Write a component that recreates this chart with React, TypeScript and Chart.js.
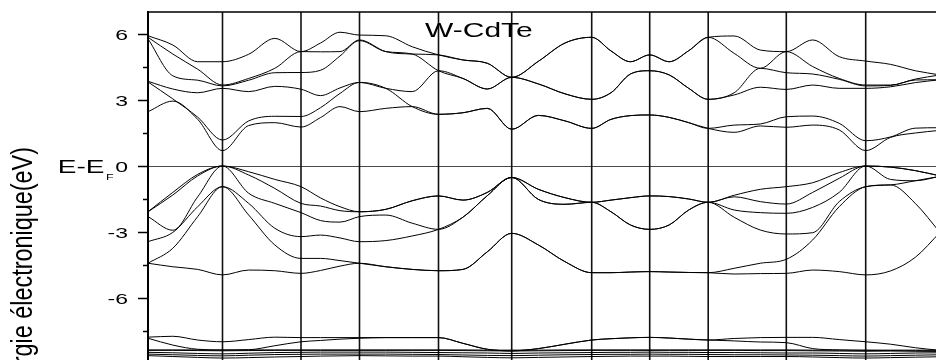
import React, { useEffect, useRef } from "react";
import { Chart, registerables } from "chart.js";

Chart.register(...registerables);

// k-path grid (arbitrary path length units) and high-symmetry points
const K = [0, 0.248, 0.497, 0.745, 1.007, 1.268, 1.53, 1.725, 1.92, 2.115, 2.378, 2.642, 2.905, 3.149, 3.393, 3.637, 3.904, 4.17, 4.437, 4.63, 4.824, 5.017, 5.212, 5.407, 5.602, 5.862, 6.123, 6.383, 6.647, 6.912, 7.177, 7.425, 7.673, 7.92];
const K_SYM = [0, 0.745, 1.53, 2.115, 2.905, 3.637, 4.437, 5.017, 5.602, 6.383, 7.177, 7.92];

const Y_MAJOR = [-9, -6, -3, 0, 3, 6];
const Y_MINOR = [-7.5, -4.5, -1.5, 1.5, 4.5];
const TITLE = "W-CdTe";
const Y_TITLE = "Énergie électronique(eV)";

// conduction bands (eV), sorted from lowest
const CB1 = [2.47, 2.95, 2.12, 0.7, 1.84, 1.97, 1.77, 2.2, 2.7, 2.47, 2.62, 2.7, 2.35, 2.42, 2.62, 1.67, 2.3, 2.05, 1.71, 2.12, 2.29, 2.32, 2.21, 1.97, 1.71, 1.53, 1.82, 1.76, 1.86, 1.64, 0.7, 1.3, 1.5, 1.62];
const CB2 = [3.82, 3.05, 2.22, 1.18, 2.05, 2.26, 2.25, 2.65, 3.3, 3.8, 3.53, 2.7, 2.35, 2.42, 2.62, 1.67, 2.3, 2.05, 1.71, 2.12, 2.29, 2.32, 2.21, 1.97, 1.71, 1.86, 1.91, 2.24, 2.27, 1.94, 1.15, 1.32, 1.72, 1.74];
const CB3 = [3.85, 3.5, 3.33, 3.53, 3.38, 3.62, 3.49, 3.2, 3.55, 3.8, 3.53, 3.38, 4.33, 3.98, 3.5, 4.03, 3.73, 3.28, 3.03, 3.33, 4.18, 4.33, 4.14, 3.53, 3.03, 3.23, 3.58, 3.48, 3.68, 3.53, 3.53, 3.6, 3.79, 3.92];
const CB4 = [5.78, 4.1, 3.9, 3.64, 3.9, 4.24, 4.25, 4.35, 5.0, 5.7, 5.2, 5.09, 4.33, 3.98, 3.5, 4.03, 3.73, 3.28, 3.03, 3.33, 4.18, 4.33, 4.14, 3.53, 3.03, 3.33, 4.44, 4.24, 4.18, 3.94, 3.64, 3.66, 3.91, 3.92];
const CB5 = [5.85, 5.09, 4.4, 3.68, 3.98, 4.44, 5.2, 5.19, 5.2, 5.73, 5.2, 5.09, 5.05, 4.82, 4.67, 4.03, 4.76, 5.59, 5.85, 5.23, 4.74, 5.05, 4.74, 5.24, 5.85, 5.12, 4.44, 5.2, 4.52, 3.98, 3.68, 3.68, 3.95, 4.14];
const CB6 = [5.92, 5.5, 4.74, 4.74, 5.08, 5.8, 5.2, 5.59, 6.08, 5.95, 5.92, 5.42, 5.05, 4.82, 4.67, 4.03, 4.76, 5.59, 5.85, 5.23, 4.74, 5.05, 4.74, 5.24, 5.85, 5.91, 5.27, 5.2, 5.73, 4.97, 4.77, 4.62, 4.33, 4.14];

// valence bands (eV), sorted from lowest
const VB1 = [-4.42, -4.58, -4.7, -4.95, -4.73, -4.76, -4.88, -4.75, -4.55, -4.42, -4.58, -4.7, -4.76, -4.7, -3.9, -3.06, -3.59, -4.35, -4.85, -4.85, -4.82, -4.8, -4.82, -4.84, -4.85, -4.91, -4.89, -4.88, -4.73, -4.8, -4.95, -4.77, -4.15, -3.02];
const VB2 = [-4.42, -3.74, -2.3, -0.94, -2.23, -3.59, -4.2, -4.2, -4.3, -4.42, -4.58, -4.7, -4.76, -4.7, -3.9, -3.06, -3.59, -4.35, -4.85, -4.85, -4.82, -4.8, -4.82, -4.84, -4.85, -4.65, -4.42, -4.24, -3.36, -1.85, -0.94, -0.86, -1.7, -3.02];
const VB3 = [-3.44, -3.02, -1.85, -0.94, -1.7, -2.83, -3.21, -3.14, -3.27, -3.44, -3.39, -3.18, -2.88, -2.33, -1.35, -0.52, -1.52, -1.74, -1.65, -2.08, -2.68, -2.88, -2.68, -2.0, -1.65, -2.33, -2.91, -3.09, -3.03, -1.62, -0.94, -0.86, -0.67, -0.47];
const VB4 = [-2.3, -2.92, -1.4, 0, -1.24, -1.7, -2.12, -2.48, -2.55, -2.3, -2.23, -2.6, -2.88, -2.33, -1.35, -0.52, -1.52, -1.74, -1.65, -2.08, -2.68, -2.88, -2.68, -2.0, -1.65, -2.0, -2.12, -2.15, -1.88, -1.2, 0, -0.61, -0.67, -0.47];
const VB5 = [-2.08, -1.32, -0.45, 0, -0.41, -1.02, -1.7, -1.82, -2.03, -2.08, -1.97, -1.58, -1.36, -1.55, -1.2, -0.52, -1.06, -1.44, -1.65, -1.55, -1.44, -1.36, -1.39, -1.5, -1.65, -1.4, -1.62, -1.73, -1.2, -0.56, 0, -0.05, -0.21, -0.45];
const VB6 = [-2.08, -1.2, -0.38, 0, -0.26, -0.61, -0.94, -1.45, -1.85, -2.08, -1.97, -1.58, -1.36, -1.55, -1.2, -0.52, -1.06, -1.44, -1.65, -1.55, -1.44, -1.36, -1.39, -1.5, -1.65, -1.33, -1.06, -0.94, -0.76, -0.3, 0, -0.05, -0.21, -0.45];

// semicore (Cd 4d) bands (eV)
const SC1 = [-8.62, -8.66, -8.7, -8.73, -8.71, -8.68, -8.66, -8.64, -8.63, -8.62, -8.63, -8.64, -8.64, -8.67, -8.7, -8.72, -8.7, -8.68, -8.66, -8.65, -8.64, -8.64, -8.64, -8.65, -8.66, -8.66, -8.66, -8.66, -8.68, -8.71, -8.73, -8.71, -8.69, -8.67];
const SC2 = [-8.55, -8.58, -8.61, -8.63, -8.6, -8.57, -8.56, -8.55, -8.55, -8.55, -8.55, -8.56, -8.57, -8.59, -8.61, -8.62, -8.6, -8.58, -8.57, -8.56, -8.56, -8.55, -8.56, -8.56, -8.57, -8.58, -8.58, -8.59, -8.6, -8.62, -8.64, -8.62, -8.6, -8.58];
const SC3 = [-8.47, -8.49, -8.52, -8.54, -8.51, -8.48, -8.47, -8.46, -8.46, -8.46, -8.46, -8.47, -8.48, -8.49, -8.5, -8.52, -8.5, -8.49, -8.48, -8.47, -8.47, -8.46, -8.47, -8.47, -8.48, -8.48, -8.49, -8.5, -8.5, -8.52, -8.54, -8.52, -8.5, -8.49];
const SC4 = [-8.38, -8.38, -8.39, -8.4, -8.39, -8.38, -8.38, -8.38, -8.38, -8.38, -8.38, -8.38, -8.38, -8.39, -8.4, -8.41, -8.4, -8.39, -8.38, -8.38, -8.38, -8.38, -8.38, -8.38, -8.38, -8.38, -8.39, -8.39, -8.4, -8.41, -8.42, -8.41, -8.4, -8.4];
const SC5 = [-8.36, -8.36, -8.36, -8.37, -8.36, -8.36, -8.36, -8.36, -8.36, -8.36, -8.36, -8.36, -8.36, -8.36, -8.37, -8.37, -8.37, -8.36, -8.36, -8.36, -8.36, -8.36, -8.36, -8.36, -8.36, -8.36, -8.36, -8.36, -8.37, -8.37, -8.37, -8.37, -8.37, -8.37];
const SC6 = [-7.83, -8.14, -8.33, -8.36, -8.35, -8.17, -7.99, -7.93, -7.87, -7.83, -7.8, -7.8, -7.8, -8.06, -8.33, -8.4, -8.3, -8.1, -7.91, -7.85, -7.81, -7.79, -7.82, -7.87, -7.91, -7.95, -8.0, -8.03, -8.3, -8.36, -8.38, -8.39, -8.42, -8.43];
const SC7 = [-7.78, -7.74, -7.91, -7.99, -7.89, -7.78, -7.8, -7.8, -7.8, -7.8, -7.8, -7.8, -7.8, -8.06, -8.33, -8.4, -8.3, -8.1, -7.91, -7.85, -7.81, -7.79, -7.82, -7.87, -7.91, -7.84, -7.8, -7.79, -7.79, -7.89, -7.99, -8.1, -8.26, -8.38];

const BANDS = [SC1, SC2, SC3, SC4, SC5, SC6, SC7, VB1, VB2, VB3, VB4, VB5, VB6, CB1, CB2, CB3, CB4, CB5, CB6];

const FONT = '"Liberation Sans", Arial, Helvetica, sans-serif';

export default function App() {
  const ref = useRef<HTMLCanvasElement | null>(null);

  useEffect(() => {
    const canvas = ref.current;
    if (!canvas) return;

    const squashed = (
      ctx: CanvasRenderingContext2D,
      text: string,
      x: number,
      y: number,
      size: number,
      sy: number,
      align: CanvasTextAlign
    ) => {
      ctx.save();
      ctx.translate(x, y);
      ctx.scale(1, sy);
      ctx.font = `${size}px ${FONT}`;
      ctx.textAlign = align;
      ctx.textBaseline = "alphabetic";
      ctx.fillText(text, 0, 0);
      ctx.restore();
    };

    const framePlugin = {
      id: "bandFrame",
      beforeDatasetsDraw(chart: any) {
        const { ctx, chartArea: a, scales } = chart;
        const xs = scales.x;
        const ys = scales.y;
        ctx.save();
        // Fermi level
        const y0 = Math.round(ys.getPixelForValue(0)) + 0.5;
        ctx.strokeStyle = "#4a4a4a";
        ctx.lineWidth = 1;
        ctx.beginPath();
        ctx.moveTo(a.left, y0);
        ctx.lineTo(a.right, y0);
        ctx.stroke();
        // high-symmetry verticals
        ctx.strokeStyle = "#111";
        ctx.lineWidth = 1.6;
        K_SYM.slice(1, -1).forEach((k) => {
          const px = xs.getPixelForValue(k);
          ctx.beginPath();
          ctx.moveTo(px, a.top);
          ctx.lineTo(px, a.bottom);
          ctx.stroke();
        });
        ctx.restore();
      },
      afterDraw(chart: any) {
        const { ctx, chartArea: a, scales } = chart;
        const ys = scales.y;
        ctx.save();
        ctx.strokeStyle = "#000";
        // frame
        ctx.lineWidth = 1.5;
        ctx.strokeRect(a.left, a.top, a.right - a.left, a.bottom - a.top);
        ctx.lineWidth = 2;
        ctx.beginPath();
        ctx.moveTo(a.left, a.top - 1);
        ctx.lineTo(a.left, a.bottom);
        ctx.stroke();
        // ticks
        ctx.lineWidth = 1.5;
        Y_MAJOR.forEach((v) => {
          const py = Math.round(ys.getPixelForValue(v)) + 0.5;
          ctx.beginPath();
          ctx.moveTo(a.left - 10, py);
          ctx.lineTo(a.left, py);
          ctx.stroke();
        });
        Y_MINOR.forEach((v) => {
          const py = Math.round(ys.getPixelForValue(v)) + 0.5;
          ctx.beginPath();
          ctx.moveTo(a.left - 5, py);
          ctx.lineTo(a.left, py);
          ctx.stroke();
        });
        // tick labels
        ctx.fillStyle = "#000";
        Y_MAJOR.forEach((v) => {
          const py = ys.getPixelForValue(v);
          squashed(ctx, String(v), a.left - 20, py + 5.5, 23, 0.66, "right");
        });
        // E-E_F label beside zero
        const pz = ys.getPixelForValue(0);
        squashed(ctx, "E-E", 57.8, pz + 7.3, 28, 0.66, "left");
        squashed(ctx, "F", 106, pz + 14, 12.5, 0.67, "left");
        // title
        squashed(ctx, TITLE, 425, 37.3, 30, 0.65, "left");
        // y axis title (rotated)
        ctx.save();
        ctx.translate(32, 147);
        ctx.rotate(-Math.PI / 2);
        ctx.scale(0.78, 1);
        ctx.font = `30px ${FONT}`;
        ctx.textAlign = "right";
        ctx.textBaseline = "alphabetic";
        ctx.fillText(Y_TITLE, 0, 0);
        ctx.restore();
        ctx.restore();
      },
    };

    const chart = new Chart(canvas, {
      type: "line",
      data: {
        datasets: BANDS.map((b, i) => ({
          label: `band ${i + 1}`,
          data: K.map((k, j) => ({ x: k, y: b[j] })),
          borderColor: "#000",
          borderWidth: 1,
          pointRadius: 0,
          fill: false,
          cubicInterpolationMode: "monotone" as const,
        })),
      },
      options: {
        responsive: false,
        animation: false,
        devicePixelRatio: 1,
        events: [],
        layout: { padding: { left: 148, top: 12, right: 60, bottom: 56 } },
        plugins: {
          legend: { display: false },
          tooltip: { enabled: false },
          title: { display: false },
        },
        scales: {
          x: { type: "linear", min: 0, max: 7.92, display: false },
          y: { type: "linear", min: -9, max: 7, display: false },
        },
      },
      plugins: [framePlugin],
    });

    return () => chart.destroy();
  }, []);

  return (
    <div
      style={{
        position: "fixed",
        left: 0,
        top: 0,
        width: 936,
        height: 360,
        overflow: "hidden",
        background: "#fff",
      }}
    >
      <canvas
        ref={ref}
        width={1000}
        height={420}
        style={{ position: "absolute", left: 0, top: 0, width: "1000px", height: "420px" }}
      />
    </div>
  );
}
